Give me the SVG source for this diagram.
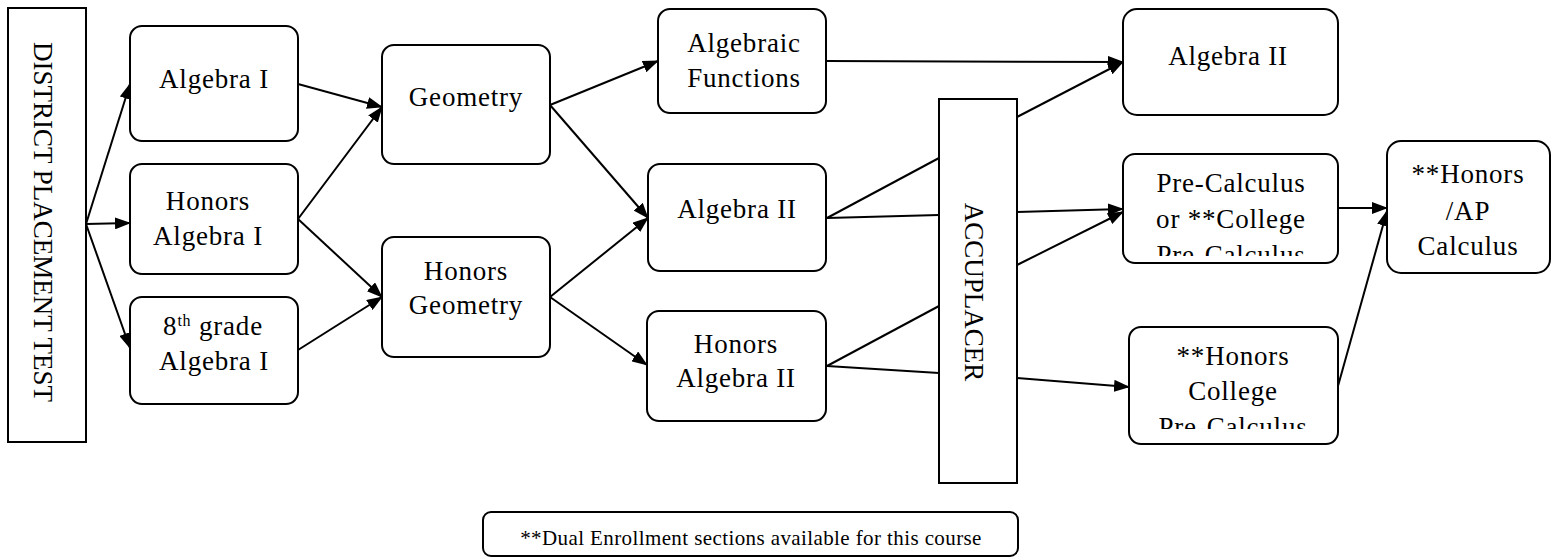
<svg xmlns="http://www.w3.org/2000/svg" width="1551" height="558" viewBox="0 0 1551 558">
<style>
.box{fill:#fff;stroke:#000;stroke-width:2}
.t{font-family:"Liberation Serif",serif;font-size:27px;letter-spacing:0.8px;fill:#000;text-anchor:middle}
.vt{font-family:"Liberation Serif",serif;font-size:27px;fill:#000;text-anchor:middle}
.sm{font-family:"Liberation Serif",serif;font-size:21px;letter-spacing:0.4px;fill:#000;text-anchor:middle}
.c line{stroke:#000;stroke-width:2}
.a{marker-end:url(#ah)}
</style>
<defs>
<marker id="ah" viewBox="0 0 16 12" refX="15" refY="6" markerWidth="16" markerHeight="12" markerUnits="userSpaceOnUse" orient="auto">
<path d="M0,0 L16,6 L0,12 z" fill="#000"/>
</marker>
<clipPath id="clipPC"><rect x="1123" y="154" width="215" height="102"/></clipPath>
<clipPath id="clipHC"><rect x="1129" y="327" width="209" height="102"/></clipPath>
</defs>

<g id="connectors" class="c">
<line class="a" x1="86" y1="224" x2="130" y2="84"/>
<line class="a" x1="86" y1="224" x2="130" y2="223"/>
<line class="a" x1="86" y1="224" x2="130" y2="348"/>
<line class="a" x1="298" y1="84" x2="382" y2="107"/>
<line class="a" x1="298" y1="219" x2="382" y2="107"/>
<line class="a" x1="298" y1="219" x2="382" y2="297"/>
<line class="a" x1="298" y1="350" x2="382" y2="297"/>
<line class="a" x1="550" y1="105" x2="658" y2="61"/>
<line class="a" x1="550" y1="105" x2="648" y2="218"/>
<line class="a" x1="550" y1="297" x2="648" y2="218"/>
<line class="a" x1="550" y1="297" x2="647" y2="365"/>
<line class="a" x1="826" y1="61" x2="1123" y2="62"/>
<line x1="827" y1="218" x2="939" y2="158"/>
<line x1="827" y1="218" x2="939" y2="215"/>
<line x1="827" y1="366" x2="939" y2="306"/>
<line x1="827" y1="366" x2="939" y2="373"/>
<line class="a" x1="1017" y1="117" x2="1123" y2="62"/>
<line class="a" x1="1017" y1="212" x2="1123" y2="209"/>
<line class="a" x1="1017" y1="265" x2="1123" y2="212"/>
<line class="a" x1="1017" y1="378" x2="1129" y2="387"/>
<line class="a" x1="1338" y1="208" x2="1387" y2="208"/>
<line class="a" x1="1338" y1="386" x2="1387" y2="211"/>
</g>

<g id="district">
<rect x="8" y="8" width="78" height="434" fill="#fff" stroke="#000" stroke-width="2"/>
<text class="vt" transform="translate(34,222) rotate(90)">DISTRICT PLACEMENT TEST</text>
</g>

<g id="algebra1">
<rect class="box" x="130" y="26" width="168" height="115" rx="12"/>
<text class="t" x="214" y="88">Algebra I</text>
</g>

<g id="honorsAlgebra1">
<rect class="box" x="130" y="164" width="168" height="110" rx="12"/>
<text class="t" x="208" y="210">Honors</text>
<text class="t" x="208" y="245">Algebra I</text>
</g>

<g id="grade8Algebra1">
<rect class="box" x="130" y="297" width="168" height="107" rx="12"/>
<text class="t" x="213" y="335">8<tspan font-size="16" dy="-9">th</tspan><tspan dy="9"> grade</tspan></text>
<text class="t" x="214" y="370">Algebra I</text>
</g>

<g id="geometry">
<rect class="box" x="382" y="45" width="168" height="119" rx="12"/>
<text class="t" x="466" y="106">Geometry</text>
</g>

<g id="honorsGeometry">
<rect class="box" x="382" y="237" width="168" height="120" rx="12"/>
<text class="t" x="466" y="280">Honors</text>
<text class="t" x="466" y="314">Geometry</text>
</g>

<g id="algebraicFunctions">
<rect class="box" x="658" y="9" width="168" height="104" rx="12"/>
<text class="t" x="744" y="52">Algebraic</text>
<text class="t" x="744" y="87">Functions</text>
</g>

<g id="algebra2mid">
<rect class="box" x="648" y="164" width="178" height="107" rx="12"/>
<text class="t" x="737" y="218">Algebra II</text>
</g>

<g id="honorsAlgebra2">
<rect class="box" x="647" y="311" width="179" height="110" rx="12"/>
<text class="t" x="736" y="353">Honors</text>
<text class="t" x="736" y="387">Algebra II</text>
</g>

<g id="accuplacer">
<rect x="939" y="99" width="78" height="384" fill="#fff" stroke="#000" stroke-width="2"/>
<text class="vt" transform="translate(965,292) rotate(90)">ACCUPLACER</text>
</g>

<g id="algebra2right">
<rect class="box" x="1123" y="9" width="215" height="106" rx="14"/>
<text class="t" x="1228" y="65">Algebra II</text>
</g>

<g id="preCalculus">
<rect class="box" x="1123" y="154" width="215" height="109" rx="12"/>
<g clip-path="url(#clipPC)">
<text class="t" x="1231" y="192">Pre-Calculus</text>
<text class="t" x="1231" y="228">or **College</text>
<text class="t" x="1231" y="264">Pre-Calculus</text>
</g>
</g>

<g id="honorsCollegePreCalc">
<rect class="box" x="1129" y="327" width="209" height="117" rx="12"/>
<g clip-path="url(#clipHC)">
<text class="t" x="1233" y="365">**Honors</text>
<text class="t" x="1233" y="400">College</text>
<text class="t" x="1233" y="436">Pre-Calculus</text>
</g>
</g>

<g id="apCalculus">
<rect class="box" x="1387" y="141" width="163" height="132" rx="14"/>
<text class="t" x="1468" y="183">**Honors</text>
<text class="t" x="1468" y="220">/AP</text>
<text class="t" x="1468" y="255">Calculus</text>
</g>

<g id="note">
<rect class="box" x="483" y="512" width="535" height="44" rx="8"/>
<text class="sm" x="751" y="545">**Dual Enrollment sections available for this course</text>
</g>
</svg>
